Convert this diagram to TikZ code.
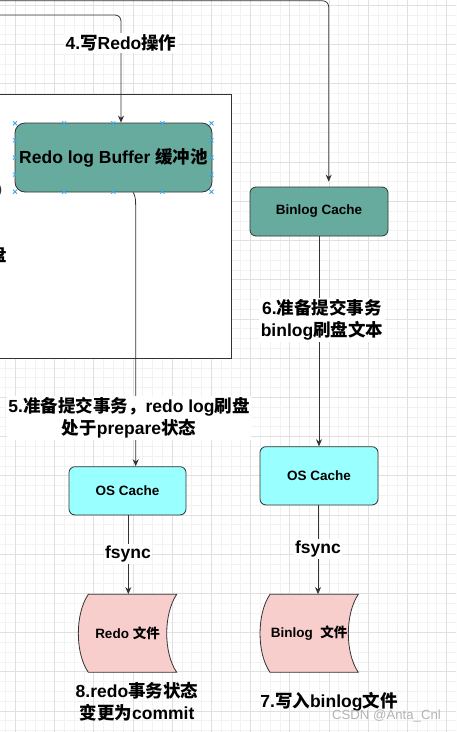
\documentclass[tikz,border=0pt]{standalone}
\usepackage{fontspec}
\setmainfont{Liberation Sans}
\newfontfamily\cjk{Noto Sans CJK SC}
\usetikzlibrary{arrows.meta}
\newcommand\zh[1]{{\cjk\bfseries #1}}
\definecolor{tealc}{HTML}{67AB9F}
\definecolor{cyanc}{HTML}{99FFFF}
\definecolor{pinkc}{HTML}{F8CECC}
\definecolor{linec}{HTML}{333333}
\definecolor{gridmaj}{HTML}{E0E0E0}
\definecolor{gridmin}{HTML}{F2F2F2}
\definecolor{handlec}{HTML}{3AA8EC}
\definecolor{wmark}{HTML}{B4B4B4}
\tikzset{
  gridminor/.style={draw=gridmin, line width=0.6pt},
  gridmajor/.style={draw=gridmaj, line width=0.7pt},
  boxbase/.style={draw=linec, line width=0.8pt, align=center, inner sep=0pt, rounded corners=6pt,
    font=\bfseries\fontsize{13.5}{16}\selectfont},
  tealbox/.style={boxbase, fill=tealc},
  cyanbox/.style={boxbase, fill=cyanc},
  filebox/.style={draw=linec, line width=0.8pt, fill=pinkc},
  filetext/.style={inner sep=0pt, align=center, font=\bfseries\fontsize{13.5}{16}\selectfont},
  lab/.style={fill=white, align=center, inner sep=1.5pt, font=\bfseries\fontsize{17.5}{22}\selectfont},
  plainlab/.style={align=center, inner sep=1pt, font=\bfseries\fontsize{17.5}{22}\selectfont},
  conn/.style={draw=linec, line width=0.8pt, -{Stealth[length=7pt,width=6pt]}},
  handle/.style={draw=handlec, line width=0.8pt},
}
\begin{document}
\begin{tikzpicture}[x=1pt,y=-1pt]
\useasboundingbox (0,0) rectangle (456,732);
\clip (0,0) rectangle (456,732);
\fill[white] (0,0) rectangle (456,732);
% grid
\foreach \k in {0,...,46} { \draw[gridminor] ({5.5+9.8*\k},0) -- ({5.5+9.8*\k},732); }
\foreach \k in {0,...,74} { \draw[gridminor] (0,{5.3+9.8*\k}) -- (456,{5.3+9.8*\k}); }
\foreach \k in {0,...,11} { \draw[gridmajor] ({15.3+39.2*\k},0) -- ({15.3+39.2*\k},732); }
\foreach \k in {0,...,18} { \draw[gridmajor] (0,{5.3+39.2*\k}) -- (456,{5.3+39.2*\k}); }

% big container (cropped)
\draw[draw=linec, line width=0.8pt, fill=white] (-3,94) rectangle (231,358);
\draw[draw=linec, line width=1.2pt] (-3,183) .. controls (2,186) and (2,194) .. (-3,197);
\node[plainlab] (pan) at (-1.5,255) {\zh{盘}};

% nodes
\node[tealbox, rounded corners=10pt, minimum width=197pt, minimum height=69pt,
      font=\bfseries\fontsize{17.5}{22}\selectfont] (rlb) at (113.5,157.5) {Redo log Buffer \zh{缓冲池}};
\node[tealbox, minimum width=138pt, minimum height=49pt] (bc) at (319,211.5) {Binlog Cache};
\node[cyanbox, minimum width=117pt, minimum height=48.3pt] (osl) at (127.5,490.8) {OS Cache};
\node[cyanbox, minimum width=118pt, minimum height=58.3pt] (osr) at (319,475.8) {OS Cache};

% file shapes
\path[filebox] (88.3,594.3) -- (176.7,594.3) .. controls (163.4,614) and (163.4,653) .. (176.7,672.3)
  -- (88.3,672.3) .. controls (75,653) and (75,614) .. (88.3,594.3) -- cycle;
\node[filetext, minimum width=98.4pt, minimum height=78pt] (rf) at (127.5,633.3) {Redo \zh{文件}};
\path[filebox] (270,594.3) -- (358.3,594.3) .. controls (345,614) and (345,653) .. (358.3,672.3)
  -- (270,672.3) .. controls (256.7,653) and (256.7,614) .. (270,594.3) -- cycle;
\node[filetext, minimum width=98.3pt, minimum height=78pt] (bf) at (309.2,633.3) {Binlog\ \ \zh{文件}};

% selection handles on Redo log Buffer
\foreach \hx in {15,64.1,113.3,162.4,211.5} {
  \foreach \hy in {123.3,191.7} {
    \draw[handle] (\hx-2,\hy-2) -- (\hx+2,\hy+2) (\hx-2,\hy+2) -- (\hx+2,\hy-2);
  }
}
\foreach \hx in {15,211.5} {
  \foreach \hy in {140.4,157.5,174.6} {
    \draw[handle] (\hx-2,\hy-2) -- (\hx+2,\hy+2) (\hx-2,\hy+2) -- (\hx+2,\hy-2);
  }
}

% connectors
\coordinate (s1) at (-3,0.8);
\coordinate (x1) at (328.7,0);
\draw[conn, rounded corners=6pt, shorten >=5pt] (s1) -- (s1 -| x1) -- (bc.north -| x1);

\coordinate (s2) at (-3,15);
\coordinate (x2) at (121,0);
\draw[conn, rounded corners=6pt] (s2) -- (s2 -| x2) -- (rlb.north -| x2);
\node[lab] (l4) at (121,43) {4.\zh{写}Redo\zh{操作}};

\coordinate (x5a) at (133.3,0);
\coordinate (x5b) at (135.7,0);
\coordinate (k5) at (135.7,215);
\draw[conn] (rlb.south -| x5a) .. controls (135.7,198) .. (k5) -- (osl.north -| x5b);
\node[lab] (l5) at (129,418) {5.\zh{准备提交事务，}redo log\zh{刷盘}\\\zh{处于}prepare\zh{状态}};

\draw[conn] (bc.south) -- (osr.north);
\node[lab] (l6) at (322,320) {6.\zh{准备提交事务}\\binlog\zh{刷盘文本}};

\coordinate (x7) at (128.3,0);
\draw[conn] (osl.south -| x7) -- (rf.north -| x7);
\node[lab] (fl) at (128,554) {fsync};

\coordinate (x8) at (318,0);
\draw[conn] (osr.south -| x8) -- (bf.north -| x8);
\node[lab] (fr) at (318,549) {fsync};

\node[plainlab] (l8) at (137,701.5) {8.redo\zh{事务状态}\\\zh{变更为}commit};
\node[plainlab] (l7) at (329,702) {7.\zh{写入}binlog\zh{文件}};
\node[inner sep=0pt, text=wmark, font=\fontsize{13.2}{15}\selectfont] (wm) at (386.5,716.5) {CSDN @Anta\_Cnl};
\end{tikzpicture}
\end{document}
